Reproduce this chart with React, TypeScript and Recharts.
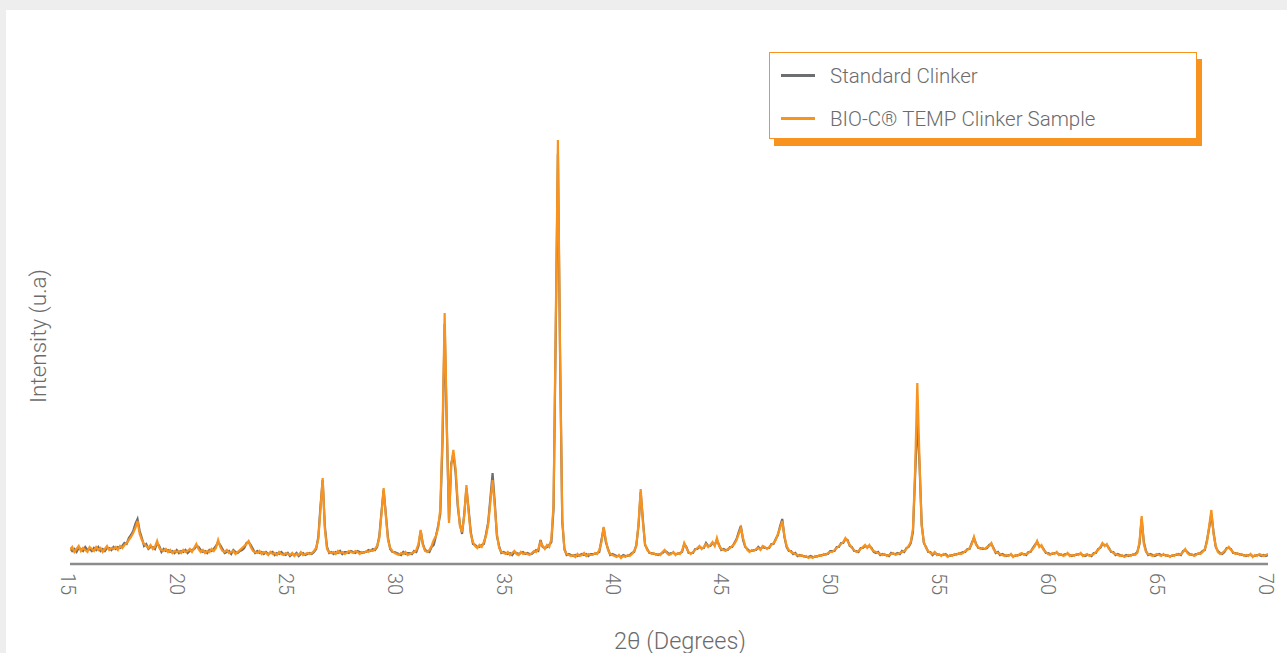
import { LineChart, Line, XAxis, YAxis, Legend } from 'recharts';

// XRD pattern sampled every 0.1° from 15° to 70° (one row per degree)
const START_DEG = 15;
const STEP_DEG = 0.1;

const BIO_C = [
  14, 17, 12, 15, 18, 13, 16, 14, 12, 17, // 15
  15, 13, 17, 14, 16, 12, 15, 18, 14, 16, // 16
  15, 17, 14, 18, 16, 19, 21, 24, 27, 31, // 17
  36, 43, 30, 24, 20, 18, 16, 19, 15, 17, // 18
  23, 16, 14, 13, 15, 12, 14, 11, 13, 12, // 19
  13, 11, 14, 12, 13, 15, 12, 16, 20, 15, // 20
  12, 14, 11, 13, 12, 15, 13, 16, 24, 17, // 21
  13, 12, 14, 11, 12, 13, 10, 12, 14, 16, // 22
  18, 20, 23, 17, 13, 12, 11, 13, 10, 12, // 23
  11, 9, 12, 10, 11, 9, 12, 10, 9, 11, // 24
  10, 9, 11, 8, 10, 9, 12, 9, 10, 11, // 25
  10, 11, 13, 16, 25, 55, 86, 35, 15, 12, // 26
  11, 12, 10, 13, 11, 12, 10, 11, 13, 12, // 27
  11, 13, 12, 10, 12, 11, 13, 12, 14, 13, // 28
  15, 18, 26, 50, 76, 48, 24, 16, 13, 11, // 29
  10, 9, 11, 10, 12, 9, 10, 11, 12, 14, // 30
  20, 34, 19, 13, 12, 14, 18, 24, 28, 36, // 31
  55, 130, 251, 140, 41, 98, 114, 96, 62, 38, // 32
  32, 48, 79, 52, 30, 22, 18, 16, 19, 17, // 33
  22, 28, 40, 62, 84, 58, 30, 16, 12, 11, // 34
  10, 12, 9, 11, 13, 10, 9, 12, 10, 11, // 35
  10, 9, 11, 13, 12, 15, 22, 18, 15, 19, // 36
  17, 25, 60, 240, 424, 210, 45, 14, 10, 9, // 37
  8, 9, 7, 10, 8, 9, 11, 8, 10, 9, // 38
  9, 11, 10, 14, 22, 37, 24, 14, 10, 9, // 39
  8, 7, 9, 6, 8, 7, 9, 8, 10, 13, // 40
  18, 40, 75, 42, 20, 14, 12, 10, 11, 9, // 41
  10, 9, 12, 14, 11, 9, 10, 12, 9, 11, // 42
  10, 13, 21, 16, 12, 10, 12, 14, 16, 18, // 43
  15, 17, 20, 17, 19, 22, 18, 26, 18, 15, // 44
  14, 13, 15, 16, 18, 20, 24, 30, 36, 26, // 45
  18, 14, 12, 14, 13, 15, 16, 14, 18, 17, // 46
  15, 17, 19, 21, 24, 30, 36, 43, 28, 18, // 47
  14, 12, 11, 10, 9, 8, 9, 7, 8, 6, // 48
  7, 6, 8, 7, 9, 8, 10, 9, 11, 12, // 49
  12, 14, 16, 18, 20, 22, 26, 23, 19, 16, // 50
  14, 12, 13, 15, 17, 19, 16, 19, 15, 13, // 51
  12, 11, 10, 9, 10, 8, 9, 10, 11, 9, // 52
  10, 11, 12, 13, 15, 18, 22, 35, 95, 181, // 53
  105, 38, 22, 16, 13, 11, 10, 12, 9, 10, // 54
  8, 10, 9, 7, 9, 8, 10, 9, 11, 10, // 55
  11, 13, 14, 16, 20, 27, 19, 17, 15, 16, // 56
  15, 17, 18, 21, 15, 12, 11, 10, 9, 8, // 57
  9, 8, 10, 7, 9, 8, 10, 11, 9, 10, // 58
  11, 13, 15, 18, 23, 17, 19, 14, 12, 10, // 59
  9, 11, 10, 12, 9, 10, 8, 9, 11, 8, // 60
  9, 8, 10, 9, 11, 8, 9, 10, 8, 9, // 61
  10, 12, 14, 17, 21, 18, 20, 15, 13, 11, // 62
  10, 9, 8, 9, 7, 8, 9, 8, 10, 9, // 63
  11, 22, 48, 20, 12, 10, 9, 8, 9, 10, // 64
  9, 8, 10, 8, 9, 7, 9, 8, 10, 9, // 65
  10, 12, 15, 11, 9, 10, 8, 9, 11, 10, // 66
  12, 15, 22, 38, 54, 30, 18, 12, 10, 11, // 67
  13, 15, 17, 14, 12, 10, 11, 9, 10, 8, // 68
  9, 8, 10, 7, 9, 8, 10, 9, 8, 9, // 69
  10, // 70
];

const STANDARD = [
  16, 13, 15, 12, 16, 15, 13, 17, 14, 15, // 15
  13, 16, 14, 17, 13, 15, 13, 16, 16, 14, // 16
  17, 15, 17, 16, 18, 21, 20, 26, 29, 33, // 17
  40, 45, 33, 26, 18, 20, 15, 17, 17, 15, // 18
  21, 18, 12, 15, 13, 14, 12, 13, 11, 14, // 19
  11, 13, 12, 14, 11, 13, 14, 15, 18, 17, // 20
  14, 12, 13, 11, 14, 13, 15, 18, 22, 19, // 21
  15, 11, 12, 13, 10, 14, 12, 11, 13, 14, // 22
  16, 21, 22, 19, 15, 11, 13, 11, 12, 10, // 23
  12, 10, 11, 12, 9, 11, 10, 12, 10, 9, // 24
  11, 8, 10, 9, 11, 8, 10, 11, 9, 10, // 25
  11, 10, 12, 15, 27, 58, 84, 38, 17, 11, // 26
  12, 10, 12, 11, 13, 10, 12, 12, 11, 13, // 27
  12, 11, 13, 12, 11, 12, 12, 14, 13, 15, // 28
  14, 17, 28, 52, 74, 50, 26, 15, 12, 12, // 29
  11, 10, 9, 12, 10, 11, 11, 10, 13, 12, // 30
  18, 33, 20, 14, 13, 12, 17, 19, 28, 38, // 31
  50, 120, 240, 135, 44, 100, 110, 92, 58, 40, // 32
  30, 50, 76, 55, 32, 20, 19, 17, 17, 19, // 33
  20, 30, 42, 66, 91, 62, 28, 18, 11, 12, // 34
  11, 10, 11, 9, 12, 11, 10, 11, 12, 10, // 35
  11, 10, 10, 12, 14, 13, 24, 17, 16, 17, // 36
  19, 22, 55, 230, 410, 205, 42, 15, 9, 10, // 37
  9, 8, 9, 8, 9, 10, 9, 10, 8, 10, // 38
  10, 10, 11, 12, 24, 36, 22, 15, 9, 10, // 39
  9, 8, 8, 7, 9, 8, 8, 9, 11, 12, // 40
  19, 38, 72, 45, 19, 15, 11, 11, 10, 10, // 41
  9, 10, 11, 13, 12, 10, 11, 11, 10, 10, // 42
  11, 12, 20, 17, 11, 11, 11, 15, 15, 17, // 43
  16, 16, 21, 18, 18, 21, 19, 24, 19, 14, // 44
  15, 14, 14, 17, 17, 21, 25, 32, 38, 24, // 45
  17, 15, 13, 13, 14, 14, 17, 15, 17, 16, // 46
  16, 16, 20, 20, 25, 29, 38, 45, 27, 17, // 47
  13, 13, 10, 11, 8, 9, 8, 8, 7, 7, // 48
  8, 7, 7, 8, 8, 9, 9, 10, 10, 13, // 49
  13, 13, 17, 17, 21, 21, 25, 24, 18, 17, // 50
  13, 13, 12, 16, 16, 18, 17, 18, 16, 12, // 51
  11, 12, 9, 10, 9, 9, 8, 11, 10, 10, // 52
  11, 10, 13, 12, 16, 17, 21, 32, 88, 144, // 53
  100, 40, 21, 17, 12, 12, 9, 11, 10, 9, // 54
  9, 9, 10, 8, 8, 9, 9, 10, 10, 11, // 55
  12, 12, 15, 15, 21, 26, 20, 16, 16, 15, // 56
  15, 16, 19, 20, 16, 11, 12, 9, 10, 9, // 57
  8, 9, 9, 8, 8, 9, 9, 10, 10, 9, // 58
  12, 12, 16, 19, 22, 18, 18, 15, 11, 11, // 59
  10, 10, 11, 11, 10, 9, 9, 10, 10, 9, // 60
  8, 9, 9, 10, 10, 9, 8, 9, 9, 8, // 61
  11, 11, 15, 16, 20, 19, 19, 16, 12, 12, // 62
  9, 10, 9, 8, 8, 9, 8, 9, 9, 10, // 63
  12, 20, 45, 22, 13, 9, 10, 9, 8, 9, // 64
  10, 9, 9, 9, 8, 8, 8, 9, 9, 10, // 65
  9, 13, 14, 12, 10, 9, 9, 10, 10, 11, // 66
  13, 14, 24, 36, 50, 32, 17, 13, 11, 10, // 67
  12, 16, 16, 15, 11, 11, 10, 10, 9, 9, // 68
  8, 9, 9, 8, 8, 9, 9, 8, 9, 8, // 69
  9, // 70
];

const X_TICKS = [15, 20, 25, 30, 35, 40, 45, 50, 55, 60, 65, 70];

const SERIES = [
  { key: 'standard', name: 'Standard Clinker', color: '#6d6e71' },
  { key: 'bioc', name: 'BIO-C® TEMP Clinker Sample', color: '#f7931e' },
];

const data = BIO_C.map((v, i) => ({
  angle: Math.round((START_DEG + i * STEP_DEG) * 10) / 10,
  standard: STANDARD[i],
  bioc: v,
}));

const FONT = 'Roboto, "Open Sans", sans-serif';
const TEXT = '#6b6b6b';

const RotatedTick = (props: any) => {
  const { x, y, payload } = props;
  const ty = y + 1;
  return (
    <text
      x={x - 2}
      y={ty}
      transform={`rotate(90 ${x - 2} ${ty})`}
      textAnchor="start"
      dominantBaseline="central"
      fontFamily={FONT}
      fontWeight={300}
      fontSize={20}
      fill="#707070"
    >
      {payload.value}
    </text>
  );
};

const LegendBox = () => (
  <div
    style={{
      width: 428,
      height: 87,
      boxSizing: 'border-box',
      border: '1.5px solid #f7931e',
      background: '#fff',
      boxShadow: '5px 7px 0 #f7931e',
      padding: '1px 0 0 11px',
      fontFamily: FONT,
      fontWeight: 300,
      fontSize: 20.5,
      color: TEXT,
      textAlign: 'left',
    }}
  >
    {SERIES.map((s) => (
      <div key={s.key} style={{ display: 'flex', alignItems: 'center', height: 43 }}>
        <span style={{ display: 'inline-block', width: 34, height: 3, background: s.color, marginRight: 15 }} />
        <span>{s.name}</span>
      </div>
    ))}
  </div>
);

export default function App() {
  return (
    <div style={{ position: 'fixed', left: 0, top: 0, width: 1287, height: 653, background: '#eeeeee', overflow: 'hidden' }}>
      <div style={{ position: 'absolute', left: 6, top: 10, width: 1281, height: 643, background: '#fff' }} />
      <div style={{ position: 'absolute', left: 0, top: 0 }}>
        <LineChart width={1287} height={653} data={data} margin={{ top: 40, right: 19, bottom: 49, left: 70 }}>
          <XAxis
            dataKey="angle"
            type="number"
            domain={[15, 70]}
            ticks={X_TICKS}
            tick={<RotatedTick />}
            tickLine={false}
            axisLine={{ stroke: '#8c8c8c', strokeWidth: 2.5 }}
            height={40}
            allowDataOverflow
          />
          <YAxis hide domain={[0, 524]} />
          <Legend
            layout="horizontal"
            verticalAlign="middle"
            align="center"
            content={<LegendBox />}
            wrapperStyle={{ left: 769, top: 52, width: 'auto' }}
          />
          {SERIES.map((s) => (
            <Line
              key={s.key}
              dataKey={s.key}
              name={s.name}
              type="linear"
              stroke={s.color}
              strokeWidth={2.2}
              dot={false}
              activeDot={false}
              isAnimationActive={false}
            />
          ))}
        </LineChart>
      </div>
      <div
        style={{
          position: 'absolute',
          left: 38,
          top: 336,
          transform: 'translate(-50%, -50%) rotate(-90deg)',
          whiteSpace: 'nowrap',
          fontFamily: FONT,
          fontWeight: 300,
          fontSize: 22.5,
          color: TEXT,
        }}
      >
        Intensity (u.a)
      </div>
      <div
        style={{
          position: 'absolute',
          left: 680,
          top: 641,
          transform: 'translate(-50%, -50%)',
          whiteSpace: 'nowrap',
          fontFamily: FONT,
          fontWeight: 300,
          fontSize: 23.5,
          color: TEXT,
        }}
      >
        2θ (Degrees)
      </div>
    </div>
  );
}
